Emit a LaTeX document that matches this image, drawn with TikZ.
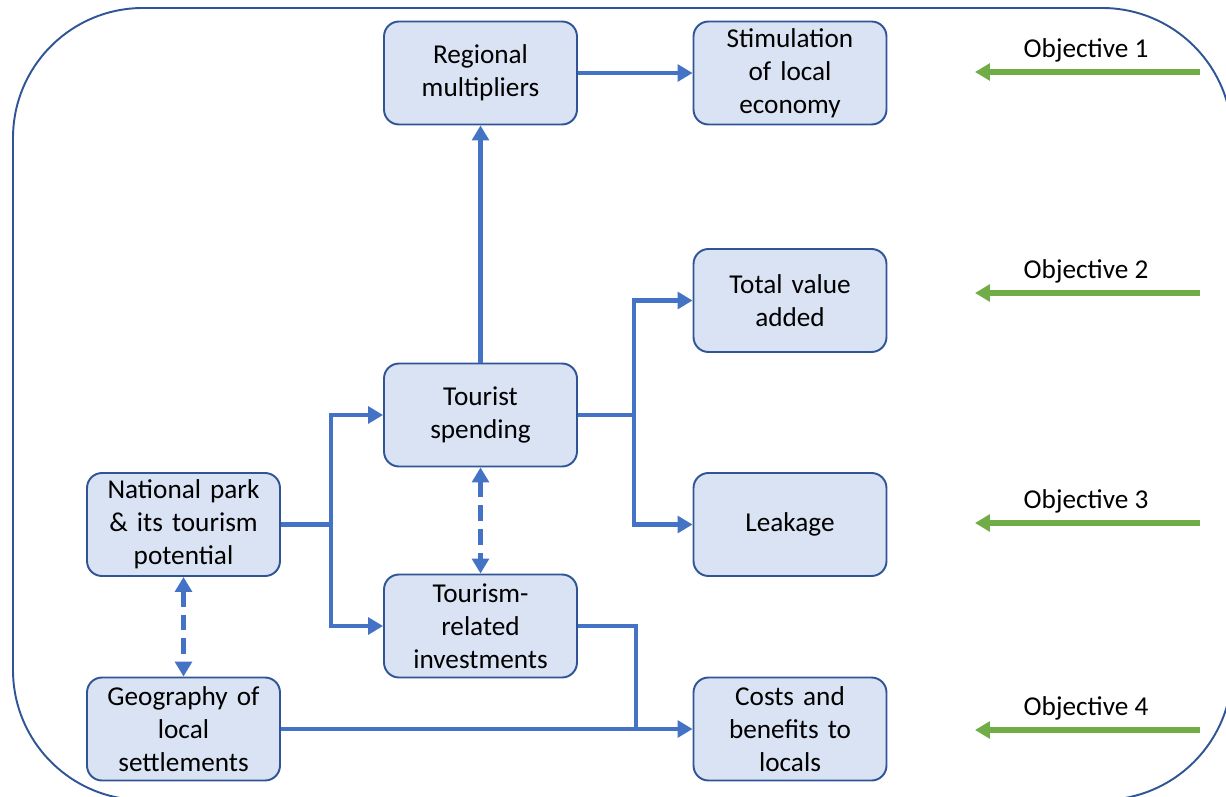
\documentclass[tikz,border=0pt]{standalone}
\usepackage{fontspec}
\setmainfont{Carlito}
\usepackage{xcolor}
\usetikzlibrary{arrows.meta}

\definecolor{boxfill}{HTML}{DAE3F3}
\definecolor{boxline}{HTML}{2F5597}
\definecolor{linkblue}{HTML}{4472C4}
\definecolor{objgreen}{HTML}{70AD47}

\begin{document}
\begin{tikzpicture}[x=0.02cm,y=-0.02cm,
    >={Triangle[length=8.5pt,width=9.5pt]},
    font=\fontsize{15.5}{18.7}\selectfont,
    box/.style={draw=boxline,line width=1.1pt,fill=boxfill,rounded corners=8.5pt,
      minimum width=3.86cm,minimum height=2.06cm,text width=3.5cm,align=center,inner sep=0pt},
    link/.style={->,draw=linkblue,line width=2.8pt},
    line/.style={draw=linkblue,line width=2.8pt},
    dlink/.style={<->,draw=linkblue,line width=2.8pt,dash pattern=on 9pt off 4.5pt},
    objarrow/.style={->,draw=objgreen,fill=objgreen,line width=3.4pt},
    frame/.style={draw=boxline,line width=1.1pt,rounded corners=2.6cm}]
  \useasboundingbox (0,0) rectangle (1226,797);
  \clip (0,0) rectangle (1226,797);
  \path[frame] (13,8) rectangle (1232,800);

  \node (reg) [box] at (480.5,73) {Regional\\multipliers};
  \node (stim) [box] at (790,73) {Stimulation\\of local\\economy};
  \node (tva) [box] at (790,300.5) {Total value\\added};
  \node (ts) [box] at (480.5,415) {Tourist\\spending};
  \node (leak) [box] at (790,524.5) {Leakage};
  \node (np) [box] at (183.5,524.5) {National park\\\& its tourism\\potential};
  \node (tri) [box] at (480.5,626) {Tourism-\\related\\investments};
  \node (geo) [box] at (183.5,729) {Geography of\\local\\settlements};
  \node (cb) [box] at (790,729) {Costs and\\benefits to\\locals};

  \coordinate (np_j) at (331,524.5);
  \coordinate (ts_j) at (634,415);
  \coordinate (tri_j) at (636,729);

  \path[link] (reg) -- (stim);
  \path[link] (ts) -- (reg);
  \path[line] (ts) -- (ts_j);
  \path[link] (ts_j) |- (tva);
  \path[link] (ts_j) |- (leak);
  \path[line] (np) -- (np_j);
  \path[link] (np_j) |- (ts);
  \path[link] (np_j) |- (tri);
  \path[line] (tri) -| (tri_j);
  \path[link] (geo) -- (cb);
  \path[dlink] (ts) -- (tri);
  \path[dlink] (np) -- (geo);

  % objectives
  \foreach \y/\n in {72/1,293/2,523/3,730/4} {
    \coordinate (obj\n_s) at (1200,\y);
    \coordinate (obj\n_e) at (975,\y);
    \path[objarrow] (obj\n_s) -- (obj\n_e);
    \node (obj\n) at (1086,\y-22) {Objective \n};
  }
\end{tikzpicture}
\end{document}
